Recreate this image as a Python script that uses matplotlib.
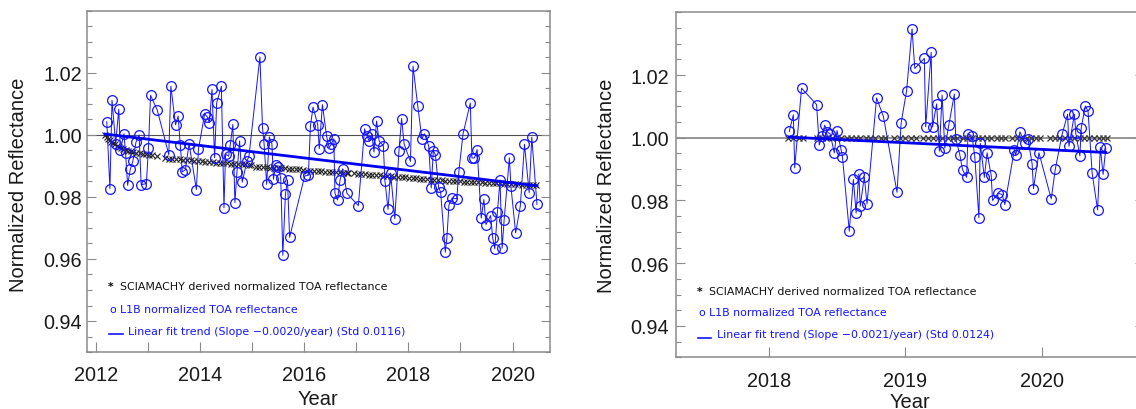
import matplotlib
matplotlib.use("Agg")
import matplotlib.pyplot as plt
from matplotlib.ticker import FixedLocator, FixedFormatter, MultipleLocator

# ---------------- data : left panel (2012-2020) ----------------
l1b_left_years = [
    2012.21, 2012.27, 2012.31, 2012.38, 2012.44, 2012.47, 2012.54, 2012.57, 2012.61, 2012.66,
    2012.71, 2012.77, 2012.83, 2012.87, 2012.97, 2013.01, 2013.05, 2013.18, 2013.40, 2013.44,
    2013.53, 2013.58, 2013.62, 2013.66, 2013.72, 2013.79, 2013.93, 2013.97, 2014.09, 2014.14,
    2014.18, 2014.23, 2014.28, 2014.32, 2014.41, 2014.46, 2014.49, 2014.55, 2014.58, 2014.63,
    2014.67, 2014.71, 2014.76, 2014.81, 2014.90, 2014.94, 2015.15, 2015.20, 2015.23, 2015.28,
    2015.33, 2015.38, 2015.41, 2015.45, 2015.50, 2015.55, 2015.59, 2015.64, 2015.68, 2015.72,
    2016.01, 2016.08, 2016.12, 2016.17, 2016.26, 2016.29, 2016.35, 2016.43, 2016.48, 2016.52,
    2016.57, 2016.59, 2016.64, 2016.69, 2016.74, 2016.82, 2017.04, 2017.16, 2017.20, 2017.25,
    2017.30, 2017.34, 2017.39, 2017.44, 2017.52, 2017.55, 2017.61, 2017.66, 2017.74, 2017.82,
    2017.87, 2017.92, 2018.04, 2018.09, 2018.18, 2018.26, 2018.31, 2018.39, 2018.44, 2018.48,
    2018.52, 2018.58, 2018.62, 2018.71, 2018.74, 2018.78, 2018.84, 2018.93, 2018.97, 2019.05,
    2019.19, 2019.22, 2019.27, 2019.32, 2019.40, 2019.45, 2019.49, 2019.58, 2019.62, 2019.66,
    2019.71, 2019.76, 2019.80, 2019.84, 2019.94, 2019.97, 2020.06, 2020.15, 2020.23, 2020.32,
    2020.37, 2020.47]
l1b_left_vals = [
    1.0043, 0.9827, 1.0112, 0.9972, 1.0083, 0.9951, 1.0004, 0.9943, 0.9838, 0.9889,
    0.9915, 0.9977, 1.0000, 0.9840, 0.9843, 0.9959, 1.0128, 1.0080, 0.9937, 1.0157,
    1.0033, 1.0061, 0.9969, 0.9881, 0.9888, 0.9972, 0.9824, 0.9954, 1.0069, 1.0058,
    1.0040, 1.0147, 0.9927, 1.0104, 1.0157, 0.9765, 0.9938, 0.9932, 0.9967, 1.0034,
    0.9782, 0.9882, 0.9981, 0.9848, 0.9915, 0.9932, 1.0252, 1.0024, 0.9972, 0.9841,
    0.9994, 0.9972, 0.9857, 0.9902, 0.9897, 0.9861, 0.9612, 0.9809, 0.9855, 0.9670,
    0.9868, 0.9870, 1.0029, 1.0090, 1.0033, 0.9956, 1.0098, 0.9996, 0.9959, 0.9970,
    0.9988, 0.9813, 0.9790, 0.9856, 0.9891, 0.9812, 0.9772, 1.0020, 0.9998, 0.9980,
    1.0004, 0.9945, 1.0045, 0.9980, 0.9965, 0.9853, 0.9760, 0.9877, 0.9730, 0.9950,
    1.0053, 0.9970, 0.9915, 1.0222, 1.0095, 0.9988, 1.0004, 0.9966, 0.9829, 0.9950,
    0.9936, 0.9832, 0.9816, 0.9622, 0.9668, 0.9775, 0.9797, 0.9794, 0.9882, 1.0004,
    1.0103, 0.9926, 0.9926, 0.9953, 0.9732, 0.9792, 0.9711, 0.9740, 0.9668, 0.9633,
    0.9751, 0.9855, 0.9635, 0.9727, 0.9926, 0.9834, 0.9684, 0.9771, 0.9970, 0.9814,
    0.9993, 0.9776]

sci_left_years = [
    2012.18, 2012.21, 2012.24, 2012.27, 2012.30, 2012.33, 2012.36, 2012.40, 2012.44, 2012.48,
    2012.52, 2012.57, 2012.62, 2012.67, 2012.72, 2012.78, 2012.84, 2012.90, 2012.96, 2013.02,
    2013.08, 2013.17,
    2013.33, 2013.40, 2013.47, 2013.54, 2013.61, 2013.68, 2013.75, 2013.82, 2013.89, 2013.96,
    2014.03, 2014.10, 2014.17, 2014.24, 2014.31, 2014.38, 2014.45, 2014.52, 2014.59, 2014.66,
    2014.73, 2014.80, 2014.87, 2014.94, 2014.97,
    2015.07, 2015.14, 2015.21, 2015.28, 2015.35, 2015.42, 2015.49, 2015.56, 2015.63, 2015.70,
    2015.77, 2015.84, 2015.91,
    2015.98, 2016.05, 2016.12, 2016.19, 2016.26, 2016.33, 2016.40, 2016.47, 2016.54, 2016.61,
    2016.68, 2016.75, 2016.82, 2016.85,
    2016.96, 2017.03, 2017.10, 2017.17, 2017.24, 2017.31, 2017.38, 2017.45, 2017.52, 2017.59,
    2017.66, 2017.73, 2017.80, 2017.87, 2017.94, 2018.01, 2018.08, 2018.15, 2018.22, 2018.29,
    2018.36, 2018.43, 2018.50, 2018.57, 2018.64, 2018.71, 2018.78, 2018.85, 2018.92, 2018.99,
    2019.06, 2019.13, 2019.20, 2019.27, 2019.34, 2019.41, 2019.48, 2019.55, 2019.62, 2019.69,
    2019.76, 2019.83, 2019.90, 2019.97, 2020.04, 2020.11, 2020.18, 2020.25, 2020.32, 2020.39,
    2020.46]
sci_left_vals = [
    1.0000, 0.9994, 0.9988, 0.9983, 0.9978, 0.9974, 0.9970, 0.9966, 0.9962, 0.9958,
    0.9955, 0.9952, 0.9950, 0.9947, 0.9945, 0.9943, 0.9941, 0.9939, 0.9938, 0.9936,
    0.9935, 0.9932,
    0.9925, 0.9924, 0.9923, 0.9922, 0.9921, 0.9920, 0.9919, 0.9918, 0.9917, 0.9916,
    0.9915, 0.9914, 0.9913, 0.9912, 0.9911, 0.9910, 0.9909, 0.9909, 0.9908, 0.9907,
    0.9906, 0.9906, 0.9905, 0.9904, 0.9904,
    0.9898, 0.9897, 0.9896, 0.9896, 0.9895, 0.9894, 0.9893, 0.9893, 0.9892, 0.9891,
    0.9891, 0.9890, 0.9889,
    0.9886, 0.9885, 0.9885, 0.9884, 0.9883, 0.9883, 0.9882, 0.9881, 0.9881, 0.9880,
    0.9880, 0.9879, 0.9878, 0.9878,
    0.9876, 0.9875, 0.9874, 0.9873, 0.9872, 0.9871, 0.9870, 0.9870, 0.9869, 0.9868,
    0.9867, 0.9866, 0.9865, 0.9864, 0.9863, 0.9862, 0.9861, 0.9860, 0.9859, 0.9858,
    0.9857, 0.9856, 0.9856, 0.9855, 0.9854, 0.9853, 0.9853, 0.9852, 0.9851, 0.9851,
    0.9850, 0.9849, 0.9849, 0.9848, 0.9847, 0.9847, 0.9846, 0.9845, 0.9845, 0.9844,
    0.9844, 0.9843, 0.9843, 0.9842, 0.9841, 0.9841, 0.9840, 0.9840, 0.9839, 0.9838,
    0.9838]

fit_left_years = [2012.18, 2020.47]
fit_left_vals = [1.0003, 0.9836]

left_xticks = [2012, 2013, 2014, 2015, 2016, 2017, 2018, 2019, 2020]
left_xticklabels = ["2012", "", "2014", "", "2016", "", "2018", "", "2020"]

# ---------------- data : right panel (2018-2020) ----------------
l1b_right_years = [
    2018.15, 2018.18, 2018.19, 2018.24, 2018.35, 2018.37, 2018.39, 2018.41, 2018.43, 2018.45,
    2018.48, 2018.50, 2018.53, 2018.54, 2018.59, 2018.62, 2018.64, 2018.66, 2018.67, 2018.70,
    2018.72, 2018.79, 2018.84, 2018.94, 2018.97, 2019.01, 2019.05, 2019.07, 2019.14, 2019.15,
    2019.19, 2019.20, 2019.23, 2019.25, 2019.27, 2019.29, 2019.32, 2019.36, 2019.37, 2019.40,
    2019.42, 2019.45, 2019.46, 2019.49, 2019.51, 2019.54, 2019.55, 2019.58, 2019.60, 2019.63,
    2019.64, 2019.68, 2019.71, 2019.73, 2019.80, 2019.81, 2019.84, 2019.88, 2019.90, 2019.93,
    2019.94, 2019.98, 2020.07, 2020.10, 2020.15, 2020.19, 2020.20, 2020.24, 2020.25, 2020.28,
    2020.29, 2020.32, 2020.34, 2020.37, 2020.41, 2020.43, 2020.45, 2020.47]
l1b_right_vals = [
    1.0020, 1.0073, 0.9904, 1.0158, 1.0106, 0.9977, 1.0005, 1.0040, 1.0018, 1.0012,
    0.9952, 1.0023, 0.9962, 0.9939, 0.9702, 0.9867, 0.9760, 0.9885, 0.9782, 0.9875,
    0.9789, 1.0127, 1.0068, 0.9826, 1.0047, 1.0150, 1.0347, 1.0221, 1.0253, 1.0035,
    1.0272, 1.0034, 1.0108, 0.9957, 1.0136, 0.9967, 1.0042, 1.0139, 0.9997, 0.9946,
    0.9898, 0.9874, 1.0013, 1.0005, 0.9939, 0.9745, 0.9982, 0.9874, 0.9952, 0.9880,
    0.9800, 0.9823, 0.9819, 0.9787, 0.9962, 0.9944, 1.0019, 0.9982, 0.9995, 0.9917,
    0.9838, 0.9952, 0.9805, 0.9900, 1.0011, 1.0075, 0.9973, 1.0075, 1.0014, 0.9942,
    1.0032, 1.0101, 1.0084, 0.9887, 0.9770, 0.9969, 0.9883, 0.9966]

sci_right_years = [
    2018.14, 2018.18, 2018.22, 2018.25,
    2018.35, 2018.39, 2018.42, 2018.46, 2018.50, 2018.53, 2018.57, 2018.60, 2018.64, 2018.67,
    2018.71, 2018.74,
    2018.78, 2018.82, 2018.85,
    2018.92, 2018.96, 2019.00, 2019.04, 2019.08,
    2019.13, 2019.17, 2019.20, 2019.24, 2019.27, 2019.31, 2019.35, 2019.38, 2019.42, 2019.45,
    2019.49, 2019.53, 2019.56, 2019.60, 2019.63, 2019.67, 2019.70, 2019.73,
    2019.78, 2019.82, 2019.85, 2019.89, 2019.92, 2019.96, 2019.99,
    2020.06, 2020.10, 2020.13, 2020.17, 2020.21, 2020.24, 2020.28, 2020.31, 2020.35, 2020.38,
    2020.42, 2020.45, 2020.48]
sci_right_vals = [
    1.0000, 1.0000, 1.0000, 1.0000,
    1.0000, 1.0000, 1.0000, 1.0000, 1.0000, 1.0000, 1.0000, 1.0000, 1.0000, 1.0000,
    1.0000, 1.0000,
    1.0000, 1.0000, 1.0000,
    1.0000, 1.0000, 1.0000, 1.0000, 1.0000,
    1.0000, 1.0000, 1.0000, 1.0000, 1.0000, 1.0000, 1.0000, 1.0000, 1.0000, 1.0000,
    1.0000, 1.0000, 1.0000, 1.0000, 1.0000, 1.0000, 1.0000, 1.0000,
    1.0000, 1.0000, 1.0000, 1.0000, 1.0000, 1.0000, 1.0000,
    1.0000, 1.0000, 1.0000, 1.0000, 1.0000, 1.0000, 1.0000, 1.0000, 1.0000, 1.0000,
    1.0000, 1.0000, 1.0000]

fit_right_years = [2018.15, 2020.47]
fit_right_vals = [1.0002, 0.9953]

right_xticks = [2018, 2019, 2020]
right_xticklabels = ["2018", "2019", "2020"]

yticks = [0.94, 0.96, 0.98, 1.00, 1.02]
yticklabels = ["0.94", "0.96", "0.98", "1.00", "1.02"]

legend_sci = "SCIAMACHY derived normalized TOA reflectance"
legend_l1b = "L1B normalized TOA reflectance"
legend_fit_left = "Linear fit trend (Slope \u22120.0020/year) (Std 0.0116)"
legend_fit_right = "Linear fit trend (Slope \u22120.0021/year) (Std 0.0124)"

# ---------------- style ----------------
W, H = 1136, 410
FRAME = "#8a8a8a"
BLUE = "#1414ff"
TICKFONT = "Liberation Sans"

fig = plt.figure(figsize=(W / 100, H / 100), dpi=100)


def px_axes(left, right, top, bottom):
    return fig.add_axes([left / W, (H - bottom) / H, (right - left) / W, (bottom - top) / H])


def style_axes(ax, xlim, xticks, xticklabels, xpad, ypad, refcolor, reflw):
    ax.set_xlim(*xlim)
    ax.set_ylim(0.93, 1.04)
    ax.axhline(1.0, color=refcolor, lw=reflw, zorder=1)
    for s in ax.spines.values():
        s.set_color(FRAME)
        s.set_linewidth(1.1)
    ax.xaxis.set_major_locator(FixedLocator(xticks))
    ax.xaxis.set_major_formatter(FixedFormatter(xticklabels))
    ax.yaxis.set_major_locator(FixedLocator(yticks))
    ax.yaxis.set_major_formatter(FixedFormatter(yticklabels))
    ax.yaxis.set_minor_locator(MultipleLocator(0.005))
    ax.tick_params(axis="x", which="major", direction="in", length=7, width=0.8,
                   color=FRAME, top=False, bottom=True, pad=xpad, labelsize=14.3)
    ax.tick_params(axis="y", which="major", direction="in", length=6.5, width=0.8,
                   color=FRAME, left=True, right=True, pad=ypad, labelsize=14.3)
    ax.tick_params(axis="y", which="minor", direction="in", length=3.6, width=0.8,
                   color=FRAME, left=True, right=True)
    for lab in ax.get_xticklabels() + ax.get_yticklabels():
        lab.set_fontfamily(TICKFONT)
        lab.set_color("#1a1a1a")


def draw_legend(ax, xs, y1, y2, y3, xt, dash_x0, dash_x1, dash_y, xt3, fit_text):
    kw = dict(transform=ax.transAxes, fontsize=7.9, fontfamily="DejaVu Sans", va="center")
    ax.text(xs, y1, "*", color="black", ha="center", fontweight="bold", **kw)
    ax.text(xt, y1, legend_sci, color="#111111", ha="left", **kw)
    ax.text(xs + 0.003, y2, "o", color=BLUE, ha="center", **kw)
    ax.text(xt, y2, legend_l1b, color=BLUE, ha="left", **kw)
    ax.plot([dash_x0, dash_x1], [dash_y, dash_y], color=BLUE, lw=1.2,
            transform=ax.transAxes, clip_on=False)
    ax.text(xt3, y3, fit_text, color=BLUE, ha="left", **kw)


# ---------------- left panel ----------------
ax1 = px_axes(87, 550, 12, 353)
style_axes(ax1, (2011.83, 2020.72), left_xticks, left_xticklabels, 9.5, 3.8, "#505050", 0.8)
ax1.plot(sci_left_years, sci_left_vals, linestyle="none", marker="x", ms=4.8, mew=0.8,
         color="#222222", zorder=2)
ax1.plot(l1b_left_years, l1b_left_vals, color=BLUE, lw=0.7, marker="o", ms=7.0,
         mfc="none", mec=BLUE, mew=0.9, zorder=3)
ax1.plot(fit_left_years, fit_left_vals, color="#0000f0", lw=2.0, zorder=4)
draw_legend(ax1, 0.0518, 0.1944, 0.1261, 0.0625, 0.0713, 0.0482, 0.0771, 0.0528, 0.0875,
            legend_fit_left)

fig.text(19 / W, (H - 185) / H, "Normalized Reflectance", rotation=90, ha="center",
         va="center", fontsize=14.5, fontfamily=TICKFONT, color="#1a1a1a")
fig.text(318 / W, (H - 405) / H, "Year", ha="center", va="baseline", fontsize=14.5,
         fontfamily=TICKFONT, color="#1a1a1a")

# ---------------- right panel ----------------
ax2 = px_axes(676, 1144, 13.3, 358.3)
style_axes(ax2, (2017.32, 2020.75), right_xticks, right_xticklabels, 9.6, 4.8, "#8c8c8c", 1.3)
ax2.plot(sci_right_years, sci_right_vals, linestyle="none", marker="x", ms=5.0, mew=0.9,
         color="#3a3a3a", zorder=2)
ax2.plot(l1b_right_years, l1b_right_vals, color=BLUE, lw=0.7, marker="o", ms=7.0,
         mfc="none", mec=BLUE, mew=0.9, zorder=3)
ax2.plot(fit_right_years, fit_right_vals, color="#0000f0", lw=2.0, zorder=4)
draw_legend(ax2, 0.0513, 0.193, 0.1304, 0.0667, 0.0712, 0.0476, 0.0741, 0.0551, 0.087,
            legend_fit_right)

fig.text(606 / W, (H - 186) / H, "Normalized Reflectance", rotation=90, ha="center",
         va="center", fontsize=14.5, fontfamily=TICKFONT, color="#1a1a1a")
fig.text(910 / W, (H - 408) / H, "Year", ha="center", va="baseline", fontsize=14.5,
         fontfamily=TICKFONT, color="#1a1a1a")

fig.savefig("out.png", dpi=100, facecolor="white")
